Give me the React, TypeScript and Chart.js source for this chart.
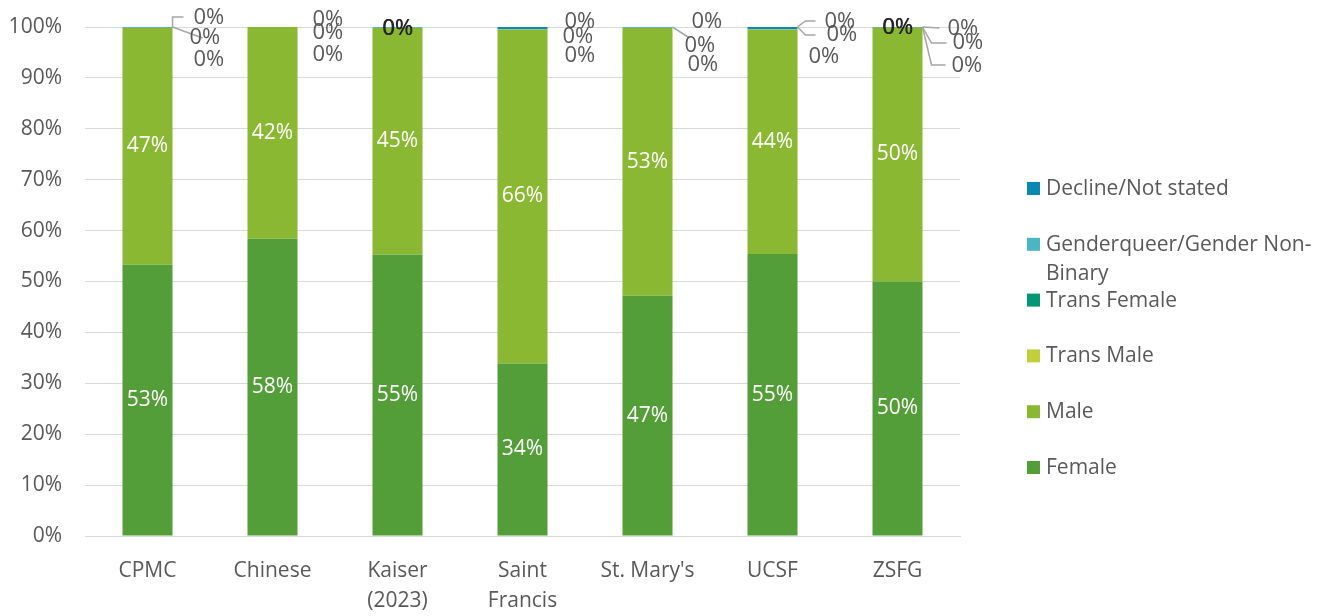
import React, { useEffect, useRef } from "react";
import { Chart, registerables } from "chart.js";

Chart.register(...registerables);

const categories: string[][] = [["CPMC"], ["Chinese"], ["Kaiser", "(2023)"], ["Saint", "Francis"], ["St. Mary's"], ["UCSF"], ["ZSFG"]];
const female = [53.3, 58.4, 55.3, 33.9, 47.2, 55.4, 50.0];
const male = [46.5, 41.6, 44.5, 65.6, 52.6, 44.1, 49.9];
const transMale = [0, 0, 0, 0, 0, 0, 0];
const transFemale = [0, 0, 0, 0, 0, 0, 0];
const genderqueer = [0.1, 0, 0.1, 0.1, 0.1, 0.1, 0];
const decline = [0.1, 0, 0.1, 0.4, 0.1, 0.4, 0.1];
const yTicks = [0, 10, 20, 30, 40, 50, 60, 70, 80, 90, 100];

const seriesNames = ["Female", "Male", "Trans Male", "Trans Female", "Genderqueer/Gender Non-Binary", "Decline/Not stated"];
const seriesColors = ["#549E39", "#8AB833", "#C0CF3A", "#029676", "#4AB5C4", "#0989B1"];

const FONT = '"Open Sans", sans-serif';
const TEXT = "#595959";

// label placement (offsets from bar top-right corner) for the tiny segments
type Lbl = { dx: number; dy: number; leader?: number[][] };
const smallLayout: { side: Lbl[]; top?: number }[] = [
  { side: [{ dx: 21, dy: -9, leader: [[0, 0], [0, -10], [11, -10]] }, { dx: 17, dy: 11, leader: [[0, 0], [30, 11]] }, { dx: 21, dy: 33 }] },
  { side: [{ dx: 15, dy: -7 }, { dx: 15, dy: 6 }, { dx: 15, dy: 28 }] },
  { side: [], top: 2 },
  { side: [{ dx: 17, dy: -5 }, { dx: 15, dy: 10 }, { dx: 17, dy: 29 }] },
  { side: [{ dx: 19, dy: -5 }, { dx: 12, dy: 19, leader: [[0, 0], [17, 11]] }, { dx: 15, dy: 38 }] },
  { side: [{ dx: 27, dy: -5, leader: [[0, 0], [8, -6], [18, -6]] }, { dx: 29, dy: 8, leader: [[0, 0], [8, 8], [18, 8]] }, { dx: 11, dy: 30 }] },
  { side: [{ dx: 25, dy: 2, leader: [[0, 0], [17, 1]] }, { dx: 30, dy: 16, leader: [[0, 0], [9, 16], [24, 16]] }, { dx: 29, dy: 39, leader: [[0, 0], [9, 38], [23, 38]] }], top: 1 },
];

const labelPlugin = {
  id: "customLabels",
  afterDatasetsDraw(chart: any) {
    const ctx = chart.ctx;
    ctx.save();
    ctx.font = `21px ${FONT}`;
    ctx.textBaseline = "middle";
    // in-bar labels
    [0, 1].forEach((di) => {
      const meta = chart.getDatasetMeta(di);
      meta.data.forEach((el: any, j: number) => {
        const p = el.getProps(["x", "y", "base"], true);
        const v = chart.data.datasets[di].data[j];
        ctx.fillStyle = "#ffffff";
        ctx.textAlign = "center";
        ctx.fillText(Math.round(v) + "%", p.x, (p.y + p.base) / 2);
      });
    });
    // small segment labels
    ctx.font = `22px ${FONT}`;
    const topMeta = chart.getDatasetMeta(5);
    const smallSeries = [2, 3, 4];
    topMeta.data.forEach((el: any, j: number) => {
      const p = el.getProps(["x", "y", "width"], true);
      const rx = p.x + p.width / 2;
      const ty = p.y;
      const lay = smallLayout[j];
      ctx.strokeStyle = "#A6A6A6";
      ctx.lineWidth = 1.5;
      lay.side.forEach((l) => {
        if (l.leader) {
          ctx.beginPath();
          l.leader.forEach((pt, i) => {
            if (i === 0) ctx.moveTo(rx + pt[0], ty + pt[1]);
            else ctx.lineTo(rx + pt[0], ty + pt[1]);
          });
          ctx.stroke();
        }
      });
      lay.side.forEach((l, k) => {
        const v = chart.data.datasets[smallSeries[k]].data[j];
        ctx.fillStyle = TEXT;
        ctx.textAlign = "left";
        ctx.fillText(Math.round(v) + "%", rx + l.dx, ty + l.dy);
      });
      if (lay.top !== undefined) {
        const v = chart.data.datasets[5].data[j];
        ctx.fillStyle = "#262626";
        ctx.textAlign = "center";
        ctx.fillText(Math.round(v) + "%", p.x, ty + lay.top);
        ctx.fillText(Math.round(v) + "%", p.x + 0.6, ty + lay.top);
      }
    });
    ctx.restore();
  },
};

const legendPlugin = {
  id: "customLegend",
  afterDraw(chart: any) {
    const ctx = chart.ctx;
    ctx.save();
    ctx.font = `21px ${FONT}`;
    ctx.textBaseline = "middle";
    ctx.textAlign = "left";
    const boxX = 1027;
    const textX = 1046;
    const maxW = 1327 - textX - 8;
    const startY = 189;
    const step = 55.8;
    const order = [5, 4, 3, 2, 1, 0];
    order.forEach((di, idx) => {
      const cy = startY + idx * step;
      ctx.fillStyle = chart.data.datasets[di].backgroundColor;
      ctx.fillRect(boxX, cy - 7, 13, 13);
      const label: string = chart.data.datasets[di].label;
      const parts = label.match(/[^ \-]+[ \-]?/g) || [label];
      const lines: string[] = [];
      let cur = "";
      parts.forEach((w) => {
        const t = cur + w;
        if (ctx.measureText(t.trimEnd()).width > maxW && cur) {
          lines.push(cur.trimEnd());
          cur = w;
        } else cur = t;
      });
      if (cur) lines.push(cur.trimEnd());
      ctx.fillStyle = TEXT;
      lines.forEach((ln, li) => ctx.fillText(ln, textX, cy + li * 29));
    });
    ctx.restore();
  },
};

export default function App() {
  const ref = useRef<HTMLCanvasElement | null>(null);
  useEffect(() => {
    document.body.style.margin = "0";
    if (!ref.current) return;
    Chart.defaults.font.family = FONT;
    const seriesData = [female, male, transMale, transFemale, genderqueer, decline];
    const chart = new Chart(ref.current, {
      type: "bar",
      data: {
        labels: categories,
        datasets: seriesData.map((d, i) => ({
          label: seriesNames[i],
          data: d,
          backgroundColor: seriesColors[i],
          borderWidth: 0,
          categoryPercentage: 1,
          barPercentage: 0.4,
        })),
      },
      options: {
        responsive: false,
        animation: false,
        layout: { padding: { top: 27, right: 367, left: 0, bottom: 0 } },
        plugins: { legend: { display: false }, tooltip: { enabled: false } },
        scales: {
          x: {
            stacked: true,
            grid: { display: false, drawTicks: false },
            border: { display: true, color: "#D9D9D9", width: 1 },
            ticks: { color: TEXT, font: { size: 21, lineHeight: 1.43 }, padding: 20, maxRotation: 0, autoSkip: false },
            afterFit: (s: any) => {
              s.height = 80;
            },
          },
          y: {
            stacked: true,
            min: 0,
            max: 100,
            afterBuildTicks: (s: any) => {
              s.ticks = yTicks.map((v) => ({ value: v }));
            },
            grid: { color: "#D9D9D9", lineWidth: 1, drawTicks: false },
            border: { display: false },
            ticks: { color: TEXT, font: { size: 21 }, padding: 23, callback: (v: any) => v + "%" },
            afterFit: (s: any) => {
              s.width = 85;
              s.paddingTop = 0;
              s.paddingBottom = 0;
            },
          },
        },
      },
      plugins: [labelPlugin, legendPlugin],
    });
    return () => chart.destroy();
  }, []);
  return (
    <div style={{ width: 1327, height: 616 }}>
      <canvas ref={ref} width={1327} height={616} />
    </div>
  );
}
